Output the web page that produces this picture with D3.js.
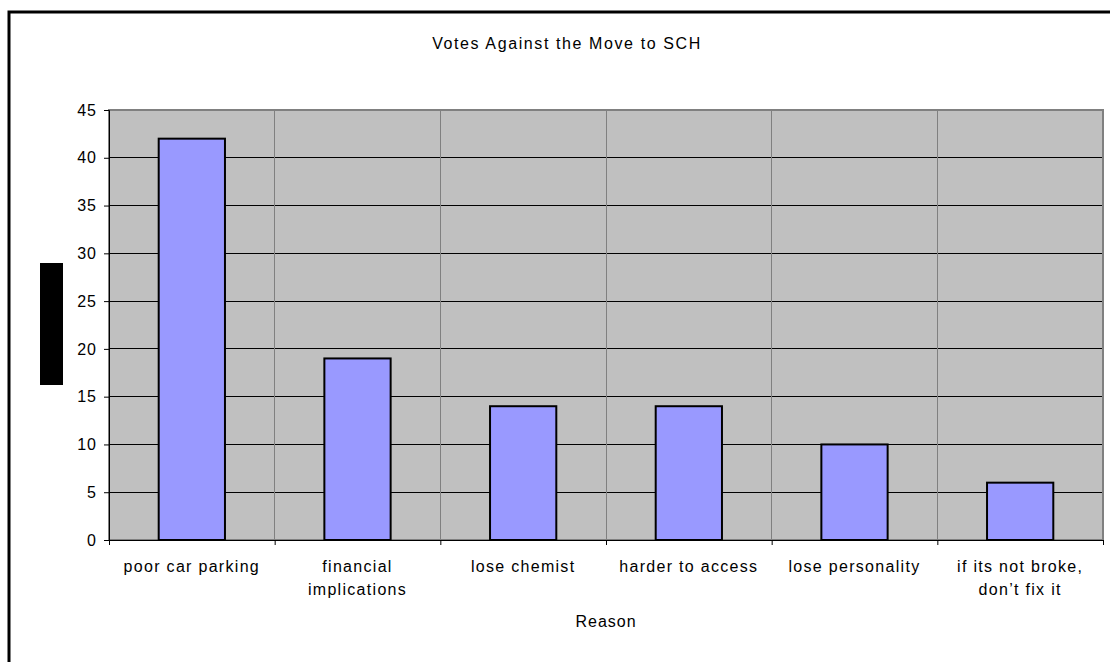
<!DOCTYPE html>
<html><head><meta charset="utf-8">
<script src="https://cdn.jsdelivr.net/npm/d3@7/dist/d3.min.js"></script>
<style>body{margin:0;background:#fff}svg{display:block;font-family:"Liberation Sans",Arial,sans-serif}</style>
</head><body><svg id="c" width="1110" height="662"></svg>
<script>
const categories = ["poor car parking", "financial implications", "lose chemist", "harder to access", "lose personality", "if its not broke, don\u2019t fix it"];
const categoryLines = [["poor car parking"], ["financial", "implications"], ["lose chemist"], ["harder to access"], ["lose personality"], ["if its not broke,", "don\u2019t fix it"]];
const votes = [42, 19, 14, 14, 10, 6];
const yTicks = [0, 5, 10, 15, 20, 25, 30, 35, 40, 45];
const title = "Votes Against the Move to SCH";
const xTitle = "Reason";
const yTitle = "Votes";

const svg = d3.select("#c");
const L = 109, R = 1103, T = 110, B = 540;

// outer frame
svg.append("rect").attr("x", 9).attr("y", 12).attr("width", 1130).attr("height", 680)
  .attr("fill", "#fff").attr("stroke", "#000").attr("stroke-width", 3);

const x = d3.scaleBand().domain(categories).range([L, R]).paddingInner(0).paddingOuter(0);
const y = d3.scaleLinear().domain([0, 45]).range([B, T]);

// plot area
svg.append("rect").attr("x", L).attr("y", T).attr("width", R - L).attr("height", B - T)
  .attr("fill", "#c0c0c0");

// horizontal gridlines
svg.append("g").selectAll("line").data(yTicks.filter(d => d > 0 && d < 45)).join("line")
  .attr("x1", L).attr("x2", R).attr("y1", d => y(d)).attr("y2", d => y(d))
  .attr("stroke", "#000").attr("stroke-width", 1).attr("shape-rendering", "crispEdges");

// vertical separators
svg.append("g").selectAll("line").data(categories.slice(1)).join("line")
  .attr("x1", d => x(d)).attr("x2", d => x(d)).attr("y1", T).attr("y2", B)
  .attr("stroke", "#808080").attr("stroke-width", 1).attr("shape-rendering", "crispEdges");

// plot border
svg.append("rect").attr("x", L).attr("y", T).attr("width", R - L).attr("height", B - T)
  .attr("fill", "none").attr("stroke", "#808080").attr("stroke-width", 2);

// bars
const bw = x.bandwidth() * 0.4;
svg.append("g").selectAll("rect").data(votes).join("rect")
  .attr("x", (d, i) => x(categories[i]) + x.bandwidth() / 2 - bw / 2)
  .attr("y", d => y(d)).attr("width", bw).attr("height", d => B - y(d))
  .attr("fill", "#9999ff").attr("stroke", "#000").attr("stroke-width", 2);

// y axis
const yAxis = d3.axisLeft(y).tickValues(yTicks).tickSize(5).tickPadding(7);
const gy = svg.append("g").attr("transform", `translate(${L},0)`).call(yAxis);
gy.select(".domain").attr("stroke", "#000").attr("stroke-width", 1);
gy.selectAll(".tick line").attr("stroke", "#000");
gy.selectAll("text").attr("font-size", 16).attr("letter-spacing", 1).attr("fill", "#000")
  .attr("font-family", "Liberation Sans, Arial, sans-serif");

// x axis
const xb = d3.scaleLinear().domain([0, 6]).range([L, R]);
const gx = svg.append("g").attr("transform", `translate(0,${B})`)
  .call(d3.axisBottom(xb).tickValues(d3.range(7)).tickSize(5).tickFormat(""));
gx.select(".domain").attr("stroke", "#000");
gx.selectAll(".tick line").attr("stroke", "#000");

// category labels
svg.append("g").selectAll("text").data(categoryLines).join("text")
  .attr("x", (d, i) => x(categories[i]) + x.bandwidth() / 2)
  .attr("y", 572).attr("text-anchor", "middle").attr("font-size", 16).attr("letter-spacing", 1.3).attr("fill", "#000")
  .selectAll("tspan").data(d => d).join("tspan")
  .attr("x", function () { return d3.select(this.parentNode).attr("x"); })
  .attr("dy", (d, i) => i === 0 ? 0 : 23).text(d => d);

// titles
svg.append("text").attr("x", 567).attr("y", 49).attr("text-anchor", "middle")
  .attr("font-size", 16).attr("letter-spacing", 1.6).attr("fill", "#000").text(title);
svg.append("text").attr("x", (L + R) / 2).attr("y", 627).attr("text-anchor", "middle")
  .attr("font-size", 16).attr("letter-spacing", 1).attr("fill", "#000").text(xTitle);

// y title (rendered black on black)
svg.append("rect").attr("x", 40).attr("y", 263).attr("width", 23).attr("height", 122).attr("fill", "#000");
svg.append("text").attr("transform", "translate(57,324) rotate(-90)").attr("text-anchor", "middle")
  .attr("font-size", 15).attr("fill", "#000").text(yTitle);
</script></body></html>
